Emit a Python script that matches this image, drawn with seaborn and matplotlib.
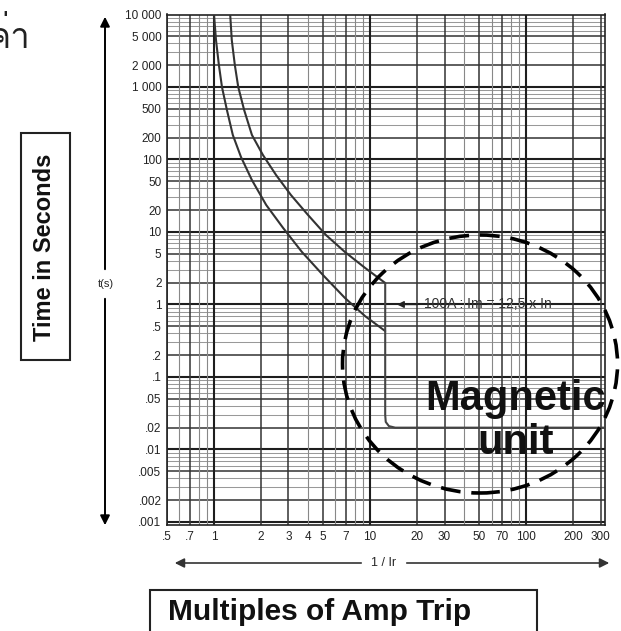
import matplotlib
matplotlib.use("Agg")
import matplotlib.pyplot as plt
from matplotlib import font_manager
from matplotlib.ft2font import FT2Font
from matplotlib.patches import Ellipse, Rectangle
from matplotlib.ticker import NullLocator
import seaborn as sns

# -------------------------------
# Trip curve data (multiples of Ir, seconds)
# -------------------------------
lower_I = [1.0, 1.03, 1.075, 1.125, 1.21, 1.32, 1.49, 1.75, 2.16, 2.77,
           3.66, 4.99, 6.9, 9.3, 12.5]
lower_t = [10000, 4450, 2010, 1000, 482, 218, 108, 52, 23.6, 11.4,
           5.3, 2.55, 1.23, 0.69, 0.43]

upper_I = [1.27, 1.30, 1.36, 1.43, 1.56, 1.75, 2.06, 2.5, 3.11, 4.0,
           5.21, 6.9, 9.3, 12.5]
upper_t = [10000, 4450, 2010, 1000, 482, 218, 115, 61, 32.4, 17.2,
           9.1, 5.3, 3.19, 1.98]

magnetic_I = [12.5, 12.5, 12.6, 13.2, 14.5, 320]
magnetic_t = [1.98, 0.03, 0.024, 0.021, 0.02, 0.02]

y_ticks = [10000, 5000, 2000, 1000, 500, 200, 100, 50, 20, 10, 5, 2, 1,
           0.5, 0.2, 0.1, 0.05, 0.02, 0.01, 0.005, 0.002, 0.001]
y_labels = ["10 000", "5 000", "2 000", "1 000", "500", "200", "100", "50",
            "20", "10", "5", "2", "1", ".5", ".2", ".1", ".05", ".02", ".01",
            ".005", ".002", ".001"]
x_ticks = [0.5, 0.7, 1, 2, 3, 4, 5, 7, 10, 20, 30, 50, 70, 100, 200, 300]
x_labels = [".5", ".7", "1", "2", "3", "4", "5", "7", "10", "20", "30",
            "50", "70", "100", "200", "300"]

sns.set_style("white")
plt.rcParams["font.family"] = ["Liberation Sans", "DejaVu Sans"]

W, H = 621, 631
fig = plt.figure(figsize=(W / 100, H / 100), dpi=100)


def fx(px):
    return px / W


def fy(py):
    return 1 - py / H


def thai_family():
    # look for any installed font that really has Thai glyphs
    for f in font_manager.fontManager.ttflist:
        try:
            cmap = FT2Font(f.fname).get_charmap()
        except Exception:
            continue
        if all(ord(c) in cmap for c in "ค่า"):
            return f.name
    return None


ax = fig.add_axes([fx(167), fy(525.3), (605 - 167) / W, (525.3 - 14.5) / H])
ax.set_xscale("log")
ax.set_yscale("log")
ax.set_xlim(0.5, 320)
ax.set_ylim(0.0009, 10000)

# log grid, decades dark, labelled lines medium, the rest light
for dec in [1e-3, 1e-2, 1e-1, 1, 10, 100, 1000]:
    for m in range(1, 10):
        v = dec * m
        if v > 10000:
            continue
        if m == 1:
            ax.axhline(v, color="#1e1e1e", lw=1.5, zorder=1)
        elif m in (2, 5):
            ax.axhline(v, color="#333333", lw=1.1, zorder=1)
        else:
            ax.axhline(v, color="#999999", lw=0.75, zorder=1)
for dec in [0.1, 1, 10, 100]:
    for m in range(1, 10):
        v = dec * m
        if v < 0.5 or v > 320:
            continue
        if m == 1:
            ax.axvline(v, color="#1e1e1e", lw=1.5, zorder=1)
        elif m in (2, 3, 5, 7):
            ax.axvline(v, color="#333333", lw=1.1, zorder=1)
        else:
            ax.axvline(v, color="#888888", lw=0.8, zorder=1)

sns.lineplot(x=lower_I, y=lower_t, sort=False, estimator=None,
             color="#333333", lw=1.5, ax=ax, zorder=3)
sns.lineplot(x=upper_I, y=upper_t, sort=False, estimator=None,
             color="#333333", lw=1.5, ax=ax, zorder=3)
sns.lineplot(x=magnetic_I, y=magnetic_t, sort=False, estimator=None,
             color="#444444", lw=1.5, ax=ax, zorder=3)

ax.set_xticks(x_ticks, x_labels)
ax.set_yticks(y_ticks, y_labels)
ax.xaxis.set_minor_locator(NullLocator())
ax.yaxis.set_minor_locator(NullLocator())
ax.tick_params(length=0, labelsize=8.5, pad=4, colors="#222222")
for s in ax.spines.values():
    s.set_color("#222222")
    s.set_linewidth(1.2)

ax.annotate("100A : Im = 12,5 x In", xy=(14.3, 1.0), xytext=(22, 1.0),
            va="center", ha="left", fontsize=10, color="#333333",
            arrowprops=dict(arrowstyle="-|>", lw=1, color="#222222"),
            zorder=4)

# dashed magnetic region
ax.add_patch(Ellipse((fx(480), fy(364)), 275 / W, 258 / H,
                     transform=fig.transFigure, fill=False, ec="black",
                     lw=2.6, ls=(0, (5.5, 3)), clip_on=False, zorder=6))
fig.text(fx(516), fy(410), "Magnetic", ha="center", va="baseline",
         fontsize=30, fontweight="bold", color="#111111", zorder=7)
fig.text(fx(516), fy(454), "unit", ha="center", va="baseline",
         fontsize=30, fontweight="bold", color="#111111", zorder=7)

# axis arrows
arrow = dict(arrowstyle="-|>", color="black", lw=1.4, mutation_scale=14)
ax.annotate("", xy=(fx(105), fy(14)), xytext=(fx(105), fy(272)),
            xycoords="figure fraction", arrowprops=arrow)
ax.annotate("", xy=(fx(105), fy(528)), xytext=(fx(105), fy(296)),
            xycoords="figure fraction", arrowprops=arrow)
fig.text(fx(106), fy(284), "t(s)", ha="center", va="center", fontsize=8)

arrow_h = dict(arrowstyle="-|>", color="#333333", lw=1.2, mutation_scale=14)
ax.annotate("", xy=(fx(172), fy(563)), xytext=(fx(364), fy(563)),
            xycoords="figure fraction", arrowprops=arrow_h)
ax.annotate("", xy=(fx(612), fy(563)), xytext=(fx(404), fy(563)),
            xycoords="figure fraction", arrowprops=arrow_h)
fig.text(fx(384), fy(563), "1 / Ir", ha="center", va="center", fontsize=9)

# boxed captions
fig.add_artist(Rectangle((fx(21), fy(360)), 49 / W, 227 / H,
                         transform=fig.transFigure, fill=False,
                         ec="#222222", lw=1.5))
fig.text(fx(45), fy(247), "Time in Seconds", rotation=90, ha="center",
         va="center", fontsize=17, fontweight="bold", color="#111111")
fig.add_artist(Rectangle((fx(150), fy(645)), 387 / W, 55 / H,
                         transform=fig.transFigure, fill=False,
                         ec="#222222", lw=1.5))
fig.text(fx(168), fy(620), "Multiples of Amp Trip", ha="left",
         va="baseline", fontsize=21.5, fontweight="bold", color="#111111")

# cropped Thai word from the page, only if a Thai font is installed
thai = thai_family()
if thai:
    fig.text(fx(30), fy(48), "ค่า", ha="right", va="baseline", fontsize=25,
             family=[thai, "DejaVu Sans"], color="#222222")

fig.savefig("out.png", dpi=100)
